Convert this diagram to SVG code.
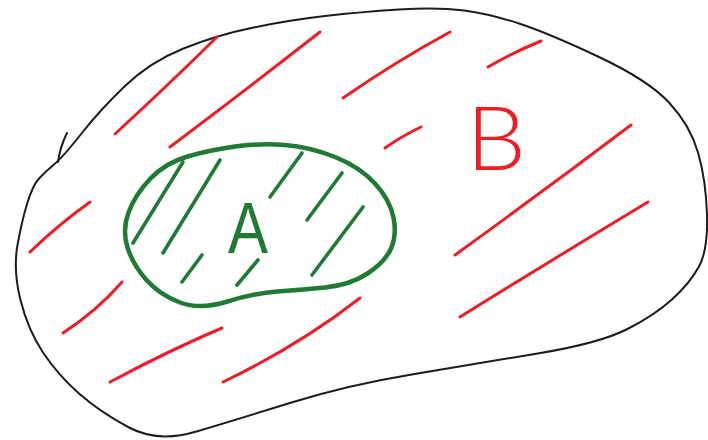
<svg xmlns="http://www.w3.org/2000/svg" width="708" height="440" viewBox="0 0 708 440">
<style>
.outline{fill:none;stroke:#1c1c1c;stroke-width:2;stroke-linecap:round;stroke-linejoin:round}
.rh{fill:none;stroke:#ee1c25;stroke-width:3;stroke-linecap:round}
.gh{fill:none;stroke:#1f7a33;stroke-width:3.6;stroke-linecap:round}
.gset{fill:none;stroke:#1f7a33;stroke-width:4.5;stroke-linecap:round;stroke-linejoin:round}
.lblA{fill:#1f7a33;font-family:"Liberation Sans",Arial,sans-serif;font-size:72px}
.lblB{fill:#ee1c25;font-family:"Lato","Liberation Sans",sans-serif;font-weight:300;font-size:88px}
</style>
<rect width="708" height="440" fill="#ffffff"/>
<g id="setB">
<path class="outline" d="M81.5,133.5 Q100,110 125,86 Q150,62 183.5,48.5 Q217,35 253.5,27.5 Q290,20 325,16 Q360,12 399,9.5 Q438,7 464,10.5 Q490,14 519,23.5 Q548,33 598,56.5 Q648,80 669,102.5 Q690,125 698,152.5 Q706,180 707,215 Q708,250 699,266.5 Q690,283 672.5,299 Q655,315 627.5,329 Q600,343 540.5,353 Q481,363 414.5,374 Q348,385 291.5,402.5 Q235,420 196.5,431.5 Q158,443 129,427.5 Q100,412 79,393.5 Q58,375 43,352.5 Q28,330 20.5,300 Q13,270 17.5,245 Q22,220 27.5,202.5 Q33,185 39,178.5 Q45,172 54,164.5 Q63,157 81.5,133.5 Z"/>
<path class="outline" d="M58,162 Q60,147 67,133"/>
<g id="hatchB">
<path class="rh" d="M115,134 Q163,90 217,37"/>
<path class="rh" d="M170,147 Q243,92 320,32"/>
<path class="rh" d="M343,98 Q395,62 450,32"/>
<path class="rh" d="M488,67 Q512,53 541,41"/>
<path class="rh" d="M385,148 Q402,136 421,127"/>
<path class="rh" d="M455,255 Q545,190 631,125"/>
<path class="rh" d="M460,317 Q560,255 648,202"/>
<path class="rh" d="M30,252 Q58,225 90,202"/>
<path class="rh" d="M63,333 Q98,310 122,282"/>
<path class="rh" d="M110,382 Q170,350 222,328"/>
<path class="rh" d="M223,382 Q300,345 360,298"/>
</g>
<text class="lblB" x="466" y="170" textLength="60" lengthAdjust="spacingAndGlyphs">B</text>
</g>
<g id="setA">
<path class="gset" d="M235,146.5 Q260,143 285,145 Q310,147 335,157 Q360,167 375,183.5 Q390,200 393.5,217.5 Q397,235 391,248.5 Q385,262 367.5,273.5 Q350,285 325,287.5 Q300,290 277.5,291.5 Q255,293 227.5,301.5 Q200,310 180,302.5 Q160,295 146.5,280 Q133,265 127.5,247.5 Q122,230 128.5,212.5 Q135,195 150,179 Q165,163 187.5,156.5 Q210,150 235,146.5 Z"/>
<g id="hatchA">
<path class="gh" d="M183,162 L133,243"/>
<path class="gh" d="M220,160 L163,253"/>
<path class="gh" d="M202,255 L182,282"/>
<path class="gh" d="M258,260 L237,285"/>
<path class="gh" d="M302,153 L270,197"/>
<path class="gh" d="M342,173 L307,220"/>
<path class="gh" d="M363,207 L312,275"/>
</g>
<text class="lblA" x="228" y="253" textLength="40" lengthAdjust="spacingAndGlyphs">A</text>
</g>
</svg>
